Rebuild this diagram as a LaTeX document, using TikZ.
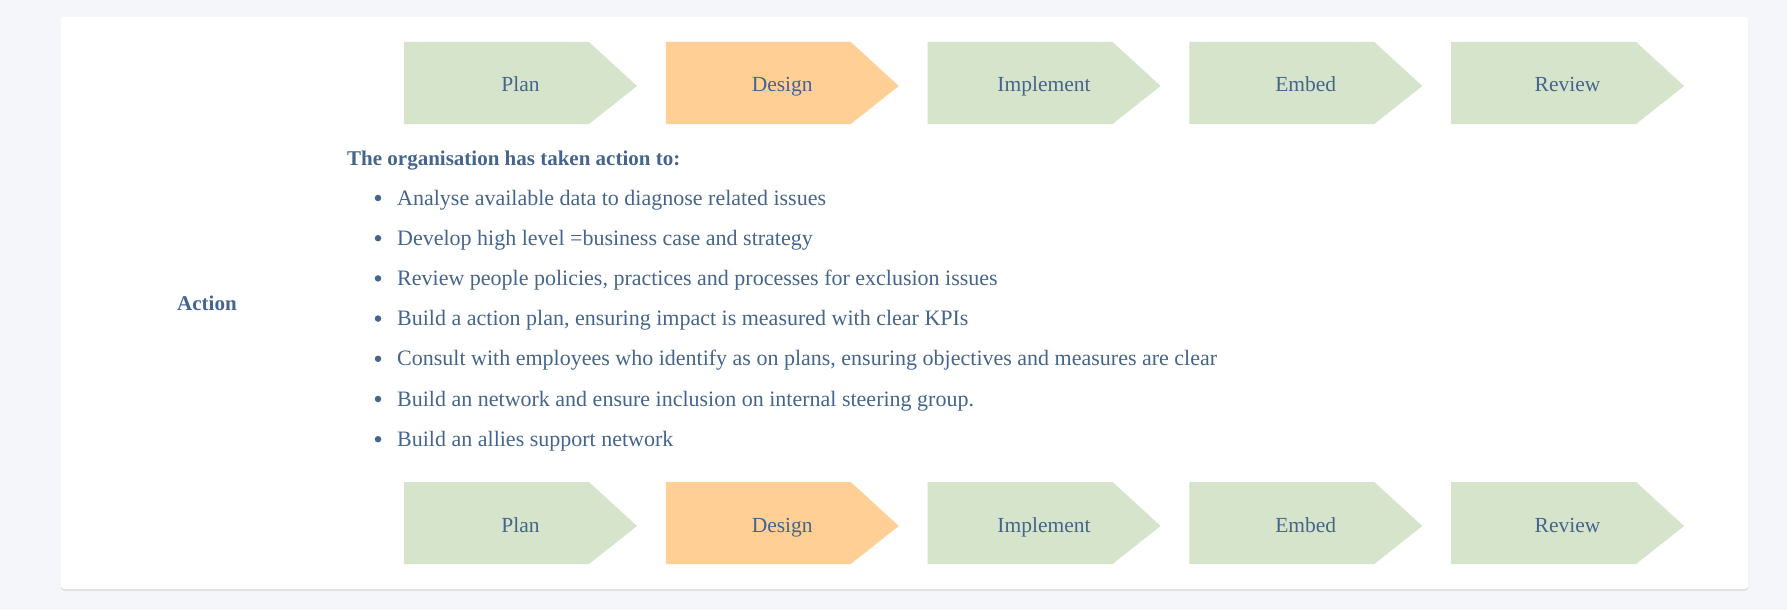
\documentclass[tikz,border=0pt]{standalone}
\usepackage{fontspec}
\setmainfont{Liberation Serif}
\definecolor{pagebg}{HTML}{F5F6FA}
\definecolor{inkblue}{HTML}{45658D}
\definecolor{stepgreen}{HTML}{D6E4CB}
\definecolor{steporange}{HTML}{FFCF96}
\begin{document}
\begin{tikzpicture}[x=1pt, y=-1pt,
                    every node/.style={inner sep=0pt, text=inkblue},
                    bodytext/.style={anchor=base west, font=\fontsize{22}{26}\selectfont},
                    steplabel/.style={anchor=base, font=\fontsize{21.5}{26}\selectfont},
                    boldtext/.style={anchor=base west, font=\fontsize{21}{25}\selectfont\bfseries},
                    dot/.style={circle, fill=inkblue, minimum size=6.5pt}]
\fill[pagebg] (0,0) rectangle (1787,610);
\useasboundingbox (0,0) rectangle (1787,610);
% card
\fill[black!14, rounded corners=3] (61,18.5) rectangle (1748,590.5);
\fill[white, rounded corners=3] (61,17) rectangle (1748,589);
% the two rows of steps
\foreach \row/\top in {a/42, b/482} {
  \foreach \name/\lbl/\col [count=\i from 0] in
      {plan/Plan/stepgreen, design/Design/steporange,
       implement/Implement/stepgreen, embed/Embed/stepgreen,
       review/Review/stepgreen} {
    \fill[\col] ({404+261.75*\i},\top) -- ++(185,0) -- ++(48,44)
                -- ++(-48,38) -- ++(-185,0) -- cycle;
    \node[steplabel] (\name\row) at ({520.5+261.75*\i},\top+50) {\lbl};
  }
}
\node[boldtext] (action) at (177,310) {Action};
\node[boldtext] (heading) at (347,165) {The organisation has taken action to:};
\foreach \txt [count=\i from 0] in
    {Analyse available data to diagnose related issues,
     Develop high level =business case and strategy,
     {Review people policies, practices and processes for exclusion issues},
     {Build a action plan, ensuring impact is measured with clear KPIs},
     {Consult with employees who identify as on plans, ensuring objectives and measures are clear},
     Build an network and ensure inclusion on internal steering group.,
     Build an allies support network} {
  \node[dot] (dot\i) at (378,{198+40.2*\i}) {};
  \node[bodytext] (item\i) at (397,{205+40.2*\i}) {\txt};
}
\end{tikzpicture}
\end{document}
